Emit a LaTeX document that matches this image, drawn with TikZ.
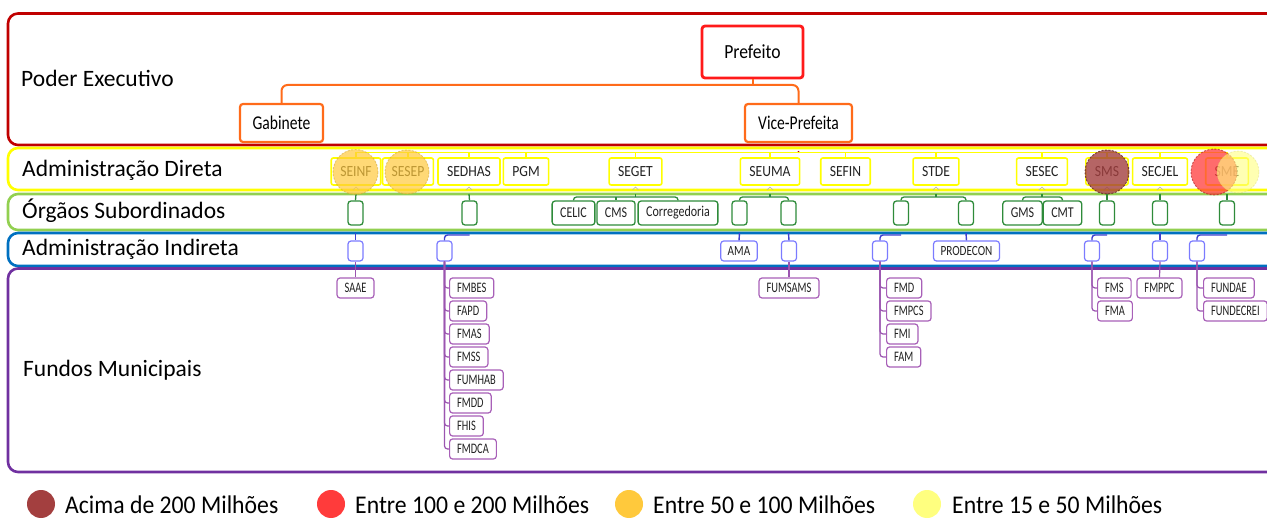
\documentclass[tikz,border=0pt]{standalone}
\usepackage{fontspec}
\setmainfont{Carlito}
\newfontfamily\stA[FakeStretch=0.88]{Carlito}
\newfontfamily\stB[FakeStretch=0.8]{Carlito}
\newfontfamily\stC[FakeStretch=0.72]{Carlito}
\newfontfamily\nL[FakeStretch=0.93]{Carlito}
\definecolor{cRedBand}{HTML}{C00000}
\definecolor{cPref}{HTML}{FF1A1A}
\definecolor{cOrange}{HTML}{FF6B1A}
\definecolor{cYel}{HTML}{FFFF00}
\definecolor{cGreenBand}{HTML}{92D050}
\definecolor{cGreen}{HTML}{2E8B3A}
\definecolor{cBlueBand}{HTML}{0070C0}
\definecolor{cBlueBox}{HTML}{7B7BFF}
\definecolor{cBlueLine}{HTML}{3F3FD0}
\definecolor{cPurpBand}{HTML}{7030A0}
\definecolor{cPurpBox}{HTML}{A860B8}
\definecolor{cPurpLine}{HTML}{9B55B0}
\definecolor{cTxt}{HTML}{222222}
\definecolor{cL1}{HTML}{A33F3F}
\definecolor{cL2}{HTML}{FF3B3B}
\definecolor{cL3}{HTML}{FFC93C}
\definecolor{cL4}{HTML}{FFFF7F}
\begin{document}
\begin{tikzpicture}[x=1pt,y=-1pt,
  band/.style={line width=2.6, rounded corners=10},
  bandlbl/.style={anchor=base west, inner sep=0, text=black, font=\fontsize{23.5}{28}\selectfont},
  execbox/.style={draw=cOrange, line width=2.2, rounded corners=3, fill=white, text=black, inner sep=0, font=\stB\fontsize{19.5}{22}\selectfont},
  oline/.style={draw=cOrange, line width=2},
  adbox/.style={draw=cYel, line width=1.6, rounded corners=2, fill=white, minimum height=27, inner xsep=9, inner ysep=0, text=cTxt, font=\stA\fontsize{15.5}{17}\selectfont},
  yline/.style={draw=cYel, line width=1.6},
  subbox/.style={draw=cGreen, line width=1.3, rounded corners=3, fill=white, minimum height=24, inner xsep=8, inner ysep=0, text=cTxt, font=\stB\fontsize{15}{16}\selectfont},
  subempty/.style={subbox, minimum width=15, inner xsep=0},
  gline/.style={draw=cGreen, line width=1.3},
  indbox/.style={draw=cBlueBox, line width=1.2, rounded corners=3, fill=white, minimum height=20, inner xsep=7, inner ysep=0, text=cTxt, font=\stB\fontsize{14}{15}\selectfont},
  indempty/.style={indbox, minimum width=15, inner xsep=0},
  bline/.style={draw=cBlueLine, line width=1.4},
  fundbox/.style={draw=cPurpBox, line width=1.2, rounded corners=3, fill=white, minimum height=20, inner xsep=7.5, inner ysep=0, text=cTxt, font=\stC\fontsize{14.5}{15}\selectfont},
  fundlist/.style={fundbox, anchor=west},
  pline/.style={draw=cPurpLine, line width=1.2},
  caret/.style={draw=black!30, line width=0.6},
  blob/.style={line width=0.9, dash pattern=on 2pt off 1.5pt},
  legtxt/.style={anchor=base west, inner sep=0, text=black, font=\nL\fontsize{25.5}{30}\selectfont}
]
\useasboundingbox (0,0) rectangle (1267,521);
\clip (0,0) rectangle (1267,521);

% bands
\draw[band, draw=cRedBand] (8,13.5) rectangle (1300,145);
\draw[band, draw=cYel] (8,148) rectangle (1300,190);
\draw[band, draw=cGreenBand] (8,194) rectangle (1300,230);
\draw[band, draw=cBlueBand] (8,233) rectangle (1300,266);
\draw[band, draw=cPurpBand] (8,268.5) rectangle (1300,472);

% band labels
\node[bandlbl] (lPE) at (21,87) {Poder Executivo};
\node[bandlbl] (lAD) at (22,177) {Administração Direta};
\node[bandlbl] (lOS) at (22,219) {Órgãos Subordinados};
\node[bandlbl] (lAI) at (22,255.5) {Administração Indireta};
\node[bandlbl] (lFM) at (23,377) {Fundos Municipais};

% executive
\node[execbox, draw=cPref, line width=2.8, minimum width=101, minimum height=52, font=\stA\fontsize{20}{22}\selectfont] (pref) at (752.5,52) {Prefeito};
\node[execbox, minimum width=83, minimum height=38] (gab) at (281.5,123) {Gabinete};
\node[execbox, minimum width=107, minimum height=38] (vice) at (798.5,123) {Vice-Prefeita};
\draw[oline] (pref.south) -- (pref.south |- 0,85);
\draw[oline, rounded corners=6] (gab.north) -- (gab.north |- 0,85) -- (vice.north |- 0,85) -- (vice.north);
\fill[cRedBand] (vice.south |- 0,152) circle[radius=1.2];

% administracao direta
\node[adbox] (seinf) at (356,171.5) {SEINF};
\node[adbox] (sesep) at (408,171.5) {SESEP};
\node[adbox] (sedhas) at (469,171.5) {SEDHAS};
\node[adbox] (pgm) at (526,171.5) {PGM};
\node[adbox] (seget) at (635.5,171.5) {SEGET};
\node[adbox] (seuma) at (770,171.5) {SEUMA};
\node[adbox] (sefin) at (845.5,171.5) {SEFIN};
\node[adbox] (stde) at (936,171.5) {STDE};
\node[adbox] (sesec) at (1042,171.5) {SESEC};
\node[adbox] (sms) at (1107,171.5) {SMS};
\node[adbox] (secjel) at (1160,171.5) {SECJEL};
\node[adbox] (sme) at (1227,171.5) {SME};
\draw[yline] (seinf.north |- 0,152.5) -- (sme.north |- 0,152.5);
\foreach \b in {seinf,sesep,sedhas,pgm,seget,seuma,sefin,stde,sesec,sms,secjel,sme}
  \draw[yline] (\b.north |- 0,152.5) -- (\b.north);
\foreach \b in {seinf,sedhas,seget,seuma,stde,sesec,sms,secjel}
  \draw[caret] ([xshift=-3pt]\b.south |- 0,190) -- (\b.south |- 0,187) -- ([xshift=3pt]\b.south |- 0,190);

% orgaos subordinados
\node[subempty] (o1) at (355.5,213) {};
\node[subempty] (o2) at (469.5,213) {};
\node[subbox] (celic) at (573.5,213) {CELIC};
\node[subbox] (cms) at (616,213) {CMS};
\node[subbox] (corr) at (678,213) {Corregedoria};
\node[subempty] (o3) at (739.5,213) {};
\node[subempty] (o4) at (788.5,213) {};
\node[subempty] (o5) at (901,213) {};
\node[subempty] (o6) at (966,213) {};
\node[subbox] (gms) at (1022.5,213) {GMS};
\node[subbox] (cmt) at (1062.5,213) {CMT};
\node[subempty] (o7) at (1107,213) {};
\node[subempty] (o8) at (1160,213) {};
\node[subempty] (o9) at (1227,213) {};

\draw[gline] (seinf.south |- 0,194) -- (o1.north);
\draw[gline] (sedhas.south |- 0,194) -- (o2.north);
\draw[gline] (sms.south |- 0,194) -- (o7.north);
\draw[gline] (secjel.south |- 0,194) -- (o8.north);
\draw[gline] (sme.south |- 0,194) -- (o9.north);
\draw[gline, rounded corners=3] (celic.north) -- (celic.north |- 0,197) -- (corr.north |- 0,197) -- (corr.north);
\draw[gline] (cms.north |- 0,197) -- (cms.north);
\draw[gline] (seget.south |- 0,194) -- (seget.south |- 0,197);
\draw[gline, rounded corners=3] (o3.north) -- (o3.north |- 0,197) -- (o4.north |- 0,197) -- (o4.north);
\draw[gline] (seuma.south |- 0,194) -- (seuma.south |- 0,197);
\draw[gline, rounded corners=3] (o5.north) -- (o5.north |- 0,197) -- (o6.north |- 0,197) -- (o6.north);
\draw[gline] (stde.south |- 0,194) -- (stde.south |- 0,197);
\draw[gline, rounded corners=3] (gms.north) -- (gms.north |- 0,197) -- (cmt.north |- 0,197) -- (cmt.north);
\draw[gline] (sesec.south |- 0,194) -- (sesec.south |- 0,197);

% administracao indireta
\node[indempty] (i1) at (355.5,251) {};
\node[indempty] (i2) at (444.5,251) {};
\node[indbox] (ama) at (739,251) {AMA};
\node[indempty] (i4) at (789,251) {};
\node[indempty] (i5) at (880,251) {};
\node[indbox] (prodecon) at (966.5,251) {PRODECON};
\node[indempty] (i7) at (1092,251) {};
\node[indempty] (i8) at (1160,251) {};
\node[indempty] (i9) at (1197,251) {};

\draw[bline] (o1.south |- 0,233) -- (i1.north);
\draw[bline] (o3.south |- 0,233) -- (ama.north);
\draw[bline] (o4.south |- 0,233) -- (i4.north);
\draw[bline] (o6.south |- 0,233) -- (prodecon.north);
\draw[bline] (o8.south |- 0,233) -- (i8.north);
\draw[bline, rounded corners=3] (o2.south |- 0,235) -- (i2.north |- 0,235) -- (i2.north);
\draw[bline, rounded corners=3] (o5.south |- 0,235) -- (i5.north |- 0,235) -- (i5.north);
\draw[bline, rounded corners=3] (o7.south |- 0,235) -- (i7.north |- 0,235) -- (i7.north);
\draw[bline, rounded corners=3] (o9.south |- 0,235) -- (i9.north |- 0,235) -- (i9.north);

% fundos municipais
\node[fundbox] (saae) at (355.5,288) {SAAE};
\node[fundlist] (fmbes) at (449,288) {FMBES};
\node[fundlist] (fapd) at (449,311) {FAPD};
\node[fundlist] (fmas) at (449,334) {FMAS};
\node[fundlist] (fmss) at (449,357) {FMSS};
\node[fundlist] (fumhab) at (449,380) {FUMHAB};
\node[fundlist] (fmdd) at (449,403) {FMDD};
\node[fundlist] (fhis) at (449,426) {FHIS};
\node[fundlist] (fmdca) at (449,449) {FMDCA};
\node[fundbox] (fumsams) at (789,288) {FUMSAMS};
\node[fundlist] (fmd) at (886,288) {FMD};
\node[fundlist] (fmpcs) at (886,311) {FMPCS};
\node[fundlist] (fmi) at (886,334) {FMI};
\node[fundlist] (fam) at (886,357) {FAM};
\node[fundlist] (fms) at (1097,288) {FMS};
\node[fundlist] (fma) at (1097,311) {FMA};
\node[fundbox] (fmppc) at (1159.5,288) {FMPPC};
\node[fundlist] (fundae) at (1203,288) {FUNDAE};
\node[fundlist] (fundecrei) at (1203,311) {FUNDECREI};

\draw[pline] (i1.south) -- (saae.north);
\draw[pline] (i4.south) -- (fumsams.north);
\draw[pline] (i8.south) -- (fmppc.north);
\foreach \f in {fmbes,fapd,fmas,fmss,fumhab,fmdd,fhis,fmdca}
  \draw[pline, rounded corners=3] (i2.south) |- (\f.west);
\foreach \f in {fmd,fmpcs,fmi,fam}
  \draw[pline, rounded corners=3] (i5.south) |- (\f.west);
\foreach \f in {fms,fma}
  \draw[pline, rounded corners=3] (i7.south) |- (\f.west);
\foreach \f in {fundae,fundecrei}
  \draw[pline, rounded corners=3] (i9.south) |- (\f.west);

% budget blobs
\filldraw[blob, fill=cL3, fill opacity=0.7, draw=cL3!80!black, draw opacity=0.5] (355.5,172) circle[radius=22.5];
\filldraw[blob, fill=cL3, fill opacity=0.7, draw=cL3!80!black, draw opacity=0.5] (407,172) circle[radius=22];
\filldraw[blob, fill=cL1, fill opacity=0.8, draw=cL1!60!black, draw opacity=0.8] (1107,172) circle[radius=22];
\filldraw[blob, fill=cL2, fill opacity=0.75, draw=cL2!70!black, draw opacity=0.7] (1214,172) circle[radius=23];
\filldraw[blob, fill=cL4, fill opacity=0.6, draw=cL4!80!black, draw opacity=0.3] (1238,172) circle[radius=21];

% legend
\fill[cL1] (41,504) circle[radius=14];
\node[legtxt] (leg1) at (65,513) {Acima de 200 Milhões};
\fill[cL2] (331,504) circle[radius=14];
\node[legtxt] (leg2) at (355,513) {Entre 100 e 200 Milhões};
\fill[cL3] (629,504) circle[radius=14];
\node[legtxt] (leg3) at (653,513) {Entre 50 e 100 Milhões};
\fill[cL4] (927,504) circle[radius=14];
\node[legtxt] (leg4) at (952,513) {Entre 15 e 50 Milhões};
\end{tikzpicture}
\end{document}
